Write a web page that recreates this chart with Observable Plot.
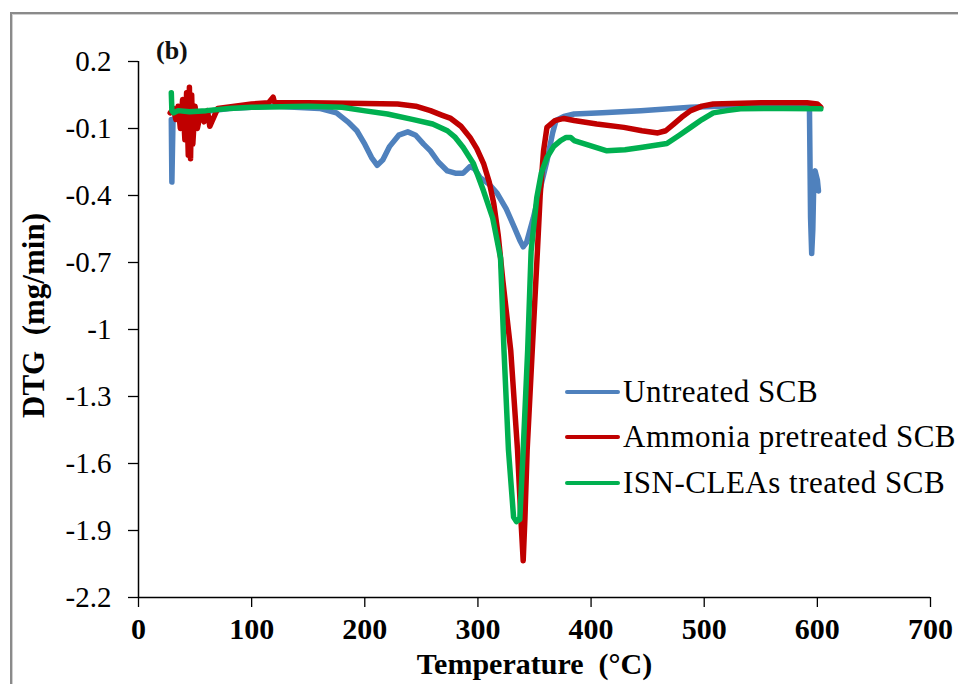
<!DOCTYPE html>
<html>
<head>
<meta charset="utf-8">
<script src="https://cdn.jsdelivr.net/npm/d3@7"></script>
<script src="https://cdn.jsdelivr.net/npm/@observablehq/plot@0.6"></script>
<style>
  html, body { margin: 0; padding: 0; background: #fff; }
  #wrap { position: relative; width: 958px; height: 684px; overflow: hidden; font-family: "Liberation Serif", "Times New Roman", serif; }
  #border { position: absolute; left: 10px; top: 12px; width: 1000px; height: 1000px; border-left: 2px solid #8a8a8a; border-top: 2px solid #8a8a8a; box-shadow: inset 1px 1px 0 #d0d0d0; }
  #panel { position: absolute; left: 156px; top: 36px; font-weight: bold; font-size: 26px; color: #111; }
  #legend { position: absolute; left: 565px; top: 369px; font-size: 31px; letter-spacing: 0.5px; color: #000; }
  .row { display: flex; align-items: center; height: 45.5px; }
  .sw { width: 55px; height: 4px; border-radius: 2px; margin-right: 3px; }
</style>
</head>
<body>
<div id="wrap">
  <div id="border"></div>
  <div id="chart"></div>
  <div id="panel">(b)</div>
  <div id="legend"></div>
</div>
<script>
// ---- data ----
const seriesNames = ["Untreated SCB", "Ammonia pretreated SCB", "ISN-CLEAs treated SCB"];
const seriesColors = ["#4f81bd", "#c00000", "#00b050"];

const untreatedT = [29, 29.5, 30.5, 35, 50, 80, 120, 160, 175, 185, 193, 200, 206, 211, 216, 222, 230, 238, 245, 252, 258, 265, 273, 280, 287, 293, 297, 302, 310, 317, 325, 332, 337, 340, 343, 349, 355, 361, 366, 369, 376, 385, 410, 444, 488, 532, 570, 591, 593, 594, 595, 596, 597, 598, 600, 601];
const untreatedV = [-0.06, -0.34, -0.06, -0.04, -0.03, -0.01, 0.0, -0.01, -0.03, -0.07, -0.11, -0.17, -0.23, -0.265, -0.24, -0.18, -0.13, -0.115, -0.13, -0.17, -0.2, -0.25, -0.29, -0.3, -0.3, -0.27, -0.28, -0.32, -0.35, -0.39, -0.46, -0.54, -0.6, -0.63, -0.61, -0.5, -0.37, -0.245, -0.12, -0.064, -0.046, -0.035, -0.03, -0.02, -0.005, 0.003, 0.005, 0.003, 0.0, -0.5, -0.66, -0.55, -0.3, -0.29, -0.33, -0.38];

const ammoniaT = [28, 31, 33, 35, 37, 39, 41, 42.5, 44, 45, 46, 47, 48, 50, 52, 55, 58, 61, 63, 70, 100, 115, 119, 120, 121, 150, 200, 229, 245, 258, 268, 276, 285, 293, 299, 305, 310, 314, 318, 322, 329, 335, 338, 340, 341.5, 343.5, 348, 352.6, 355, 358, 361, 368, 376, 385, 405, 429, 445, 459, 466, 473, 480, 488, 498, 508, 550, 591, 600, 603];
const ammoniaV = [-0.03, -0.01, -0.06, 0.0, -0.1, 0.03, -0.15, 0.06, -0.22, 0.085, -0.235, 0.05, -0.17, 0.0, -0.1, -0.03, -0.07, -0.02, -0.09, -0.01, 0.01, 0.015, 0.04, 0.02, 0.015, 0.015, 0.012, 0.01, 0.0, -0.02, -0.04, -0.055, -0.09, -0.14, -0.19, -0.257, -0.34, -0.436, -0.58, -0.78, -1.094, -1.54, -1.85, -2.035, -1.85, -1.54, -1.094, -0.646, -0.4, -0.2, -0.095, -0.065, -0.055, -0.064, -0.08, -0.095, -0.11, -0.12, -0.11, -0.08, -0.05, -0.02, 0.0, 0.01, 0.015, 0.015, 0.01, -0.005];

const isnT = [29, 29.5, 31, 35, 45, 60, 80, 100, 150, 180, 199, 220, 243, 260, 273, 280, 287, 296, 305, 313, 320, 323, 327, 331.5, 334, 337, 340, 344, 347, 352, 356, 361, 367, 373, 378, 382, 385, 395, 414, 430, 444, 467, 478, 488, 498, 508, 520, 532, 570, 603];
const isnV = [0.06, -0.02, -0.03, -0.02, -0.025, -0.02, -0.01, -0.005, 0.0, -0.005, -0.02, -0.035, -0.06, -0.08, -0.11, -0.14, -0.185, -0.257, -0.38, -0.5, -0.68, -1.09, -1.54, -1.84, -1.86, -1.85, -1.54, -1.09, -0.65, -0.41, -0.3, -0.23, -0.18, -0.154, -0.14, -0.14, -0.154, -0.17, -0.2, -0.195, -0.185, -0.167, -0.13, -0.095, -0.06, -0.03, -0.02, -0.012, -0.01, -0.012];

const xTicks = [0, 100, 200, 300, 400, 500, 600, 700];
const yTicks = [0.2, -0.1, -0.4, -0.7, -1, -1.3, -1.6, -1.9, -2.2];
const xLabel = "Temperature  (°C)";
const yLabel = "DTG  (mg/min)";

// ---- build table ----
const toRows = (name, T, V) => T.map((t, i) => ({series: name, T: t, v: V[i]}));
const rows = [
  ...toRows(seriesNames[0], untreatedT, untreatedV),
  ...toRows(seriesNames[1], ammoniaT, ammoniaV),
  ...toRows(seriesNames[2], isnT, isnV)
];

const fmt = d => String(+(+d).toFixed(1));

const chart = Plot.plot({
  width: 958,
  height: 684,
  marginLeft: 138,
  marginRight: 28,
  marginTop: 61,
  marginBottom: 87,
  style: {fontFamily: "'Liberation Serif', 'Times New Roman', serif", color: "#000", background: "transparent", overflow: "visible"},
  x: {domain: [0, 700]},
  y: {domain: [-2.2, 0.2]},
  color: {domain: seriesNames, range: seriesColors},
  marks: [
    Plot.axisY({ticks: yTicks, tickSize: 10, tickPadding: 17, tickFormat: fmt, fontSize: 29, label: null, strokeWidth: 1.3}),
    Plot.axisX({ticks: xTicks, tickSize: 10, tickPadding: 10, tickFormat: d => String(d), fontSize: 30, fontWeight: "bold", label: null, strokeWidth: 1.3}),
    Plot.axisX({ticks: [], label: xLabel, labelAnchor: "center", labelOffset: 76, fontSize: 30, fontWeight: "bold", labelArrow: "none"}),
    Plot.text([yLabel], {frameAnchor: "left", textAnchor: "middle", rotate: -90, dx: -104, dy: -14, fontSize: 31, fontWeight: "bold", fill: "#000"}),
    Plot.ruleX([0], {stroke: "#000", strokeWidth: 1.5}),
    Plot.ruleY([-2.2], {stroke: "#000", strokeWidth: 1.5}),
    Plot.line(rows, {x: "T", y: "v", z: "series", stroke: "series", strokeWidth: 5.5, strokeLinejoin: "round", strokeLinecap: "round"})
  ]
});
document.getElementById("chart").appendChild(chart);

// ---- legend ----
const legend = document.getElementById("legend");
seriesNames.forEach((name, i) => {
  const row = document.createElement("div");
  row.className = "row";
  const sw = document.createElement("div");
  sw.className = "sw";
  sw.style.background = seriesColors[i];
  const txt = document.createElement("span");
  txt.textContent = name;
  row.appendChild(sw);
  row.appendChild(txt);
  legend.appendChild(row);
});
</script>
</body>
</html>
